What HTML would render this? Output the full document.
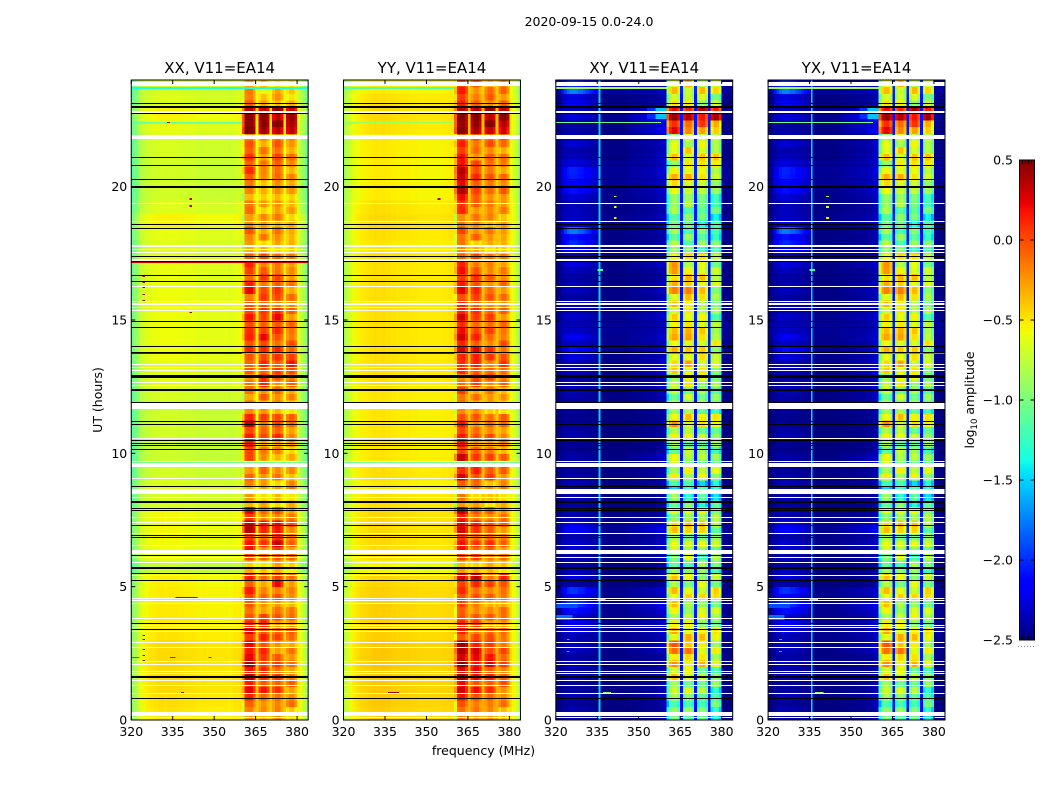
<!DOCTYPE html>
<html lang="en">
<head>
<meta charset="utf-8">
<title>2020-09-15 0.0-24.0</title>
<style>
html,body{margin:0;padding:0;background:#fff;}
svg{display:block;font-family:"DejaVu Sans","Liberation Sans",sans-serif;fill:#000;}
</style>
</head>
<body>
<svg id="figure" xmlns="http://www.w3.org/2000/svg" width="1050" height="800" viewBox="0 0 1050 800">
  <rect x="0" y="0" width="1050" height="800" fill="#fff"/>
  <text x="589" y="26" font-size="12.5" text-anchor="middle">2020-09-15 0.0-24.0</text>
  <text x="483.5" y="755" font-size="12.5" text-anchor="middle">frequency (MHz)</text>
  <text transform="translate(102,400) rotate(-90)" font-size="12.5" text-anchor="middle">UT (hours)</text>
  <text transform="translate(974,400) rotate(-90)" font-size="12.5" text-anchor="middle">log<tspan font-size="8.5" dy="3">10</tspan><tspan dy="-3"> amplitude</tspan></text>
  <g id="panels"></g>
  <g id="colorbar"></g>
</svg>
<script>
// ---------- chart data (hours, MHz, log10 amplitude) ----------
const panelTitles = ["XX, V11=EA14", "YY, V11=EA14", "XY, V11=EA14", "YX, V11=EA14"];
const freqTicks = [320, 335, 350, 365, 380];
const hourTicks = [0, 5, 10, 15, 20];
const colorbarTicks = [0.5, 0.0, -0.5, -1.0, -1.5, -2.0, -2.5];
const colorbarLabels = ["0.5", "0.0", "\u22120.5", "\u22121.0", "\u22121.5", "\u22122.0", "\u22122.5"];
const firstChannel = 320;
const subbandChannels = [[360,361,362,363,364],[366,367,368,369],[371,372,373,374],[376,377,378,379]];
const xyGlowChannels = [322,323,324,325,326,327,328,329,330,331,332,333,334,335];
const xyGlowWeights = [.5,.7,.9,1,1,1,.9,.9,.8,.7,.6,.5,.4,.3];
const xyRightGlowChannels = [346,347,348,349,350,351,352,353,354,355,356,357,358,359];
const xyRightGlowWeights = [.2,.3,.3,.4,.4,.5,.5,.6,.6,.7,.8,.9,1,1];
const stripeShifts = [0, 7, 13, 23];

// per-channel offsets, 320..383 MHz
const xxProfile = [-.42,-.32,-.2,-.1,-.05,-.02,0,.01,.02,.03,.04,.04,.03,.04,.04,.04,.04,.03,.03,.02,.02,.02,.02,.01,0,0,.01,0,0,0,0,0,0,0,0,-.01,0,.02,.02,.03,-.5,0,.03,.03,-.12,.12,-.08,.03,.03,-.1,.12,-.08,.04,.04,-.1,.12,-.08,.03,.03,-.12,-.02,-.1,-.22,-.36];
const yyProfile = [-.3,-.22,-.14,-.08,-.04,-.02,0,.01,.02,.03,.04,.05,.04,.04,.05,.04,.04,.03,.03,.02,.02,.02,.02,.02,.01,.01,.01,0,0,0,0,0,0,0,0,0,.01,.01,.02,.02,-.5,0,.04,.04,-.12,.14,-.08,.03,.03,-.1,.14,-.08,.03,.03,-.1,.14,-.08,.03,.03,-.12,-.02,-.1,-.2,-.32];
const xyProfile = [0,0,.02,.02,.02,.02,.02,.01,.01,.01,.01,.01,.01,.01,.01,.01,.01,0,0,0,0,0,0,0,0,0,0,0,0,0,0,0,.01,.01,.01,.01,.02,.03,.05,.08,-.4,-.05,.05,.05,-.12,.4,-.12,.05,.05,-.15,.4,-.12,.05,.05,-.15,.4,-.12,.05,.02,-.22,.02,0,0,0];

// per half-hour background level, index 0 = 0.0 h
const xxRowBase = [-.53,-.51,-.5,-.5,-.5,-.5,-.53,-.55,-.55,-.55,-.57,-.75,-.62,-.6,-.6,-.6,-.7,-.68,-.72,-.74,-.74,-.72,-.72,-.74,-.7,-.66,-.64,-.62,-.62,-.62,-.62,-.62,-.62,-.64,-.64,-.68,-.64,-.58,-.68,-.72,-.72,-.72,-.7,-.7,-.64,-.58,-.68,-.7];
const yyRowBase = [-.47,-.45,-.45,-.45,-.45,-.45,-.47,-.47,-.47,-.47,-.49,-.6,-.52,-.5,-.5,-.5,-.52,-.55,-.52,-.54,-.54,-.54,-.54,-.54,-.54,-.52,-.52,-.52,-.52,-.52,-.52,-.52,-.52,-.52,-.52,-.54,-.52,-.5,-.52,-.56,-.56,-.56,-.55,-.55,-.52,-.5,-.52,-.56];
const xyRowBase = [-2.5,-2.5,-2.48,-2.48,-2.48,-2.48,-2.46,-2.46,-2.46,-2.46,-2.5,-2.5,-2.48,-2.46,-2.44,-2.48,-2.5,-2.5,-2.48,-2.48,-2.5,-2.5,-2.5,-2.5,-2.48,-2.48,-2.48,-2.46,-2.46,-2.44,-2.46,-2.48,-2.48,-2.48,-2.48,-2.48,-2.48,-2.46,-2.48,-2.46,-2.44,-2.44,-2.48,-2.48,-2.48,-2.46,-2.48,-2.42];
const xyLeftGlow = [.1,.1,.05,.1,.1,.1,.15,.2,.35,.35,.15,.15,.15,.15,.2,.1,.1,.1,.05,.05,.05,.1,.05,.05,.1,.1,.1,.25,.2,.1,.1,.1,.1,.1,.15,.35,.5,.2,.1,.25,.35,.3,.1,.15,.05,.15,.25,.5];
const xyRightGlow = [.05,.1,.05,.05,.05,.1,.1,.1,.15,.1,.05,.05,.1,.1,.15,.05,.05,.05,.05,.1,.05,.05,.05,.05,.1,.1,.15,.1,.1,.05,.1,.1,.1,.05,.1,.05,.05,.1,.05,.1,.1,.1,.1,.1,.2,.3,.05,.05];

// per half-hour level of the four 5 MHz sub-bands, index 0 = 0.0 h
const xxSubbands = [[-.2,-.2,-.2,-.25],[.05,-.05,-.05,-.1],[.25,.15,.05,-.05],[.25,.1,.05,-.1],[.35,.15,0,-.1],[.15,.1,-.1,-.1],[.2,.15,0,-.05],[.05,.1,-.05,-.05],[-.1,-.1,-.1,-.15],[.1,-.1,-.05,-.15],[.05,-.1,.2,-.1],[-.3,-.35,-.3,-.35],[.1,-.1,.1,-.1],[.2,.1,.3,-.05],[.3,.15,.2,0],[.15,-.05,-.05,-.1],[-.3,-.3,-.3,-.3],[-.2,-.25,-.3,-.1],[-.15,-.1,-.15,-.2],[-.05,-.15,-.35,-.25],[.15,-.15,-.15,-.25],[.1,0,.1,-.1],[.25,.05,.05,-.05],[-.2,-.2,-.2,-.3],[-.2,-.05,-.1,-.15],[-.1,.15,-.05,-.05],[-.1,.1,.1,.2],[.05,.15,.1,.1],[.1,.2,.05,0],[.1,.1,.1,-.05],[.1,.05,.2,-.05],[-.05,.15,0,-.05],[.15,0,.1,-.1],[0,.05,0,-.15],[.05,0,-.1,-.1],[-.3,-.3,-.3,-.3],[-.1,-.15,-.1,-.2],[-.15,-.2,-.15,-.25],[-.15,-.25,-.2,-.25],[-.25,-.3,-.2,-.25],[-.05,-.2,-.1,-.15],[.05,-.1,0,-.15],[0,-.1,.05,-.1],[-.05,-.2,-.05,-.2],[.5,.55,.5,.5],[.45,.5,.45,.45],[-.1,-.3,-.2,-.3],[-.2,-.4,-.3,-.4]];
const yySubbands = [[-.15,-.15,-.2,-.2],[.1,0,0,-.1],[.3,.15,.1,0],[.3,.2,.15,0],[.4,.3,.25,.05],[.35,.25,.2,.05],[.1,0,0,-.1],[.05,0,-.05,-.05],[-.05,-.05,-.15,-.1],[.05,-.05,-.05,-.1],[.15,.3,.05,.15],[-.25,-.3,-.3,-.3],[.1,0,0,-.1],[.2,.05,.1,-.05],[.2,.1,0,-.05],[.25,0,-.05,-.05],[-.2,-.3,-.3,-.3],[-.1,-.1,-.2,-.1],[.2,.1,.05,-.05],[.25,.1,.05,0],[.15,-.1,-.1,-.15],[.1,-.05,0,-.1],[.1,-.05,-.05,-.05],[-.2,-.2,-.25,-.3],[-.05,-.15,-.1,-.2],[-.1,.05,0,-.05],[.05,.1,0,.1],[.2,.25,.1,.05],[.25,.1,0,0],[.2,.05,.05,-.05],[.2,.05,.05,-.05],[.1,.1,0,-.05],[.15,.1,-.05,-.05],[.15,.05,-.05,-.1],[.05,0,-.1,-.1],[-.2,-.3,-.3,-.3],[-.05,-.1,-.1,-.15],[-.1,-.15,-.15,-.2],[.05,-.1,-.1,-.15],[.3,.05,-.05,-.05],[.3,.1,0,-.05],[.3,.05,0,-.1],[.1,-.1,0,-.1],[.1,-.05,0,-.05],[.45,.5,.5,.45],[.45,.5,.5,.5],[.1,-.1,0,-.05],[.1,-.1,-.1,-.1]];
const xySubbands = [[-1,-1,-1.1,-1.1],[-1,-1,-1.05,-1.1],[-.7,-.8,-.9,-1],[-.6,-.75,-.85,-.95],[-.35,-.45,-.5,-.7],[-.2,-.3,-.4,-.6],[-.4,-.45,-.5,-.6],[-.7,-.75,-.7,-.8],[-.55,-.7,-.7,-.75],[-.5,-.6,-.6,-.5],[-.6,-.75,-.7,-.8],[-.9,-1,-.95,-.95],[-.85,-.8,-1,-.9],[-.6,-.8,-.75,-.8],[-.55,-.55,-.5,-.85],[-.8,-.7,-.7,-.8],[-1,-1.1,-1.1,-1.2],[-1.3,-1.3,-1.3,-1.3],[-.7,-.7,-.7,-.7],[-.75,-.8,-.85,-.9],[-.9,-.9,-.9,-.95],[-.7,-.75,-.85,-.85],[-.4,-.5,-.55,-.6],[-.9,-.9,-.9,-.95],[-.9,-.85,-.9,-.95],[-.7,-.6,-.7,-.9],[-.55,-.45,-.5,-.7],[-.5,-.5,-.55,-.7],[-.4,-.45,-.45,-.6],[-.4,-.35,-.5,-.8],[-.6,-.7,-.7,-.9],[-.45,-.35,-.6,-.85],[-.35,-.3,-.4,-.7],[-.35,-.5,-.5,-.7],[-.4,-.6,-.6,-.8],[-.9,-1,-1,-1],[-1,-1.05,-1,-1.1],[-.95,-1.05,-1.1,-1.15],[-.95,-.95,-1.05,-1.1],[-.75,-.8,-.8,-1],[-.35,-.45,-.6,-.75],[-.7,-.6,-.45,-.55],[-.55,-.5,-.45,-.5],[-.7,-.75,-.7,-.85],[.1,-.1,-.1,-.25],[.35,.3,.3,.3],[-.6,-.7,-.7,-.75],[-.5,-.55,-.5,-.6]];

// panel-wide sub-band calibration offsets
const xxBandOffsets = [-.05,-.1,-.1,-.12];
const yyBandOffsets = [-.05,-.08,-.12,-.12];
const xyBandOffsets = [-.05,-.05,-.08,-.1];

// quarter-hour row-to-row variation across the sub-bands, index 0 = 0.0 h
const rowStripes = [0,.05,-.1,.1,0,-.08,.12,-.05,.08,-.1,.05,.1,-.12,.06,.1,-.06,0,.1,-.05,.08,-.1,.12,.02,-.1,-.06,.1,0,-.12,.1,.05,-.08,.1,-.04,.08,-.1,.06,.1,-.08,.04,.1,-.1,.05,.08,-.06,.1,-.1,.02,.1,-.08,.1,0,-.1,.08,.05,-.06,.1,-.1,.06,.02,-.08,.1,-.05,.06,-.1,.1,.02,-.08,.06,.1,-.1,0,.08,-.06,.1,-.02,-.1,.08,.04,-.08,.1,-.06,.02,.08,-.1,.1,-.04,.06,-.1,.08,0,.05,-.08,.06,-.04,.08,-.05];

// overlaid features: [hour start, hour end, MHz start, MHz end, level]
const xxFeatures = [[23.68,23.72,320,384,-1.35],[22.37,22.41,320,360,-1.1],[17.14,17.19,320,384,.28],[13.74,13.78,320,360,.42],[13.74,13.78,360,384,-1.45],[9.62,9.68,320,384,-1.05],[16.6,16.64,324,325,.45],[16.4,16.44,324,325,.45],[16.2,16.24,324,325,.45],[15.95,15.99,324,325,.45],[15.7,15.74,324,325,.45],[3.37,3.41,324,325,.4],[3.15,3.19,324,325,.42],[3.0,3.04,324,325,.42],[2.64,2.68,324,325,.42],[2.4,2.44,324,325,.42],[2.2,2.24,324,325,.42],[2.33,2.37,320,323,.1],[2.33,2.37,334,336,.2],[2.33,2.37,348,349,.2],[4.58,4.62,336,344,.3],[1.02,1.06,338,339,.4],[19.5,19.56,341,342,.35],[19.25,19.3,341,342,.35],[15.25,15.3,341,342,.4],[22.4,22.44,333,334,.35]];
const yyFeatures = [[23.68,23.72,320,360,-1.15],[13.74,13.78,320,360,.42],[13.74,13.78,360,384,-1.5],[9.62,9.68,320,384,-1.05],[1.02,1.06,336,340,.4],[19.5,19.56,354,355,.35],[22.37,22.41,320,360,-.9]];
const xyFeatures = [[0,24,335.5,336.1,-1.5],[23.68,23.72,320,360,-.85],[22.37,22.41,320,358,-1.05],[22.55,22.95,353,356,-2.0],[22.55,22.95,356,360,-1.55],[13.74,13.78,320,360,-1.05],[13.74,13.78,360,384,-1.6],[4.5,4.56,335,338,-1.0],[4.2,4.4,320,328,-1.9],[3.75,3.95,320,326,-1.8],[1.0,1.06,337,340,-.9],[19.6,19.66,341,342,-.9],[19.2,19.26,341,342,-.7],[18.8,18.86,341,342,-.5],[16.85,16.9,335,337,-1.2],[12.35,12.41,322,323,-.6],[3.0,3.05,324,325,-.1],[2.55,2.6,324,325,-.1]];

// flagged (blank) time ranges, hours
const blankRanges = [[23.78,23.93],[22.76,22.84],[21.79,21.94],[19.36,19.4],[18.67,18.71],[17.73,17.81],[17.63,17.66],[17.51,17.55],[17.23,17.27],[16.25,16.28],[15.67,15.7],[15.58,15.62],[15.45,15.48],[15.35,15.38],[13.31,13.34],[13.2,13.23],[13.1,13.13],[12.63,12.66],[12.52,12.55],[11.65,11.88],[10.55,10.58],[9.7,9.73],[9.49,9.63],[9.05,9.08],[8.46,8.66],[8.35,8.38],[7.59,7.62],[7.4,7.43],[6.99,7.02],[6.54,6.57],[6.22,6.38],[6.09,6.12],[5.89,5.92],[5.39,5.42],[4.55,4.58],[4.46,4.49],[4.37,4.4],[3.8,3.83],[3.52,3.55],[3.45,3.48],[3.32,3.35],[2.88,2.91],[2.69,2.72],[2.19,2.22],[2.08,2.11],[1.81,1.84],[1.74,1.77],[1.48,1.51],[1.3,1.33],[.99,1.02],[.16,.29],[.08,.11]];
// missing-data (black) time ranges, hours
const blackRanges = [[23.12,23.15],[22.95,23.03],[22.74,22.77],[21.08,21.11],[20.79,20.82],[20.27,20.3],[19.95,20.03],[18.58,18.61],[18.43,18.46],[17.38,17.41],[17.18,17.21],[16.67,16.7],[16.44,16.47],[14.94,14.97],[14.72,14.75],[13.99,14.02],[13.78,13.81],[12.84,12.94],[12.34,12.42],[11.9,11.93],[11.18,11.21],[11.08,11.11],[10.46,10.49],[10.37,10.4],[10.27,10.3],[10.12,10.15],[8.74,8.77],[8.14,8.22],[7.91,7.94],[7.83,7.86],[7.29,7.32],[6.9,6.93],[6.82,6.85],[6.15,6.18],[5.66,5.74],[5.49,5.52],[5.23,5.26],[3.62,3.65],[3.38,3.41],[1.57,1.65],[.8,.83]];

const panelData = [
  {base: xxRowBase, profile: xxProfile, bands: xxSubbands, bandOffsets: xxBandOffsets, features: xxFeatures, glow: null, rightGlow: null, stripeGain: 1},
  {base: yyRowBase, profile: yyProfile, bands: yySubbands, bandOffsets: yyBandOffsets, features: yyFeatures, glow: null, rightGlow: null, stripeGain: 1},
  {base: xyRowBase, profile: xyProfile, bands: xySubbands, bandOffsets: xyBandOffsets, features: xyFeatures, glow: xyLeftGlow, rightGlow: xyRightGlow, stripeGain: 1.8},
  {base: xyRowBase, profile: xyProfile, bands: xySubbands, bandOffsets: xyBandOffsets, features: xyFeatures, glow: xyLeftGlow, rightGlow: xyRightGlow, stripeGain: 1.8}
];

// ---------- axes and colour ----------
const NS = "http://www.w3.org/2000/svg";
const plotTop = 80, plotBottom = 720, plotWidth = 176.9, panelStep = 212.28, plotLeft = 131.25;
const freqMin = 320, freqMax = 384, hourMin = 0, hourMax = 24, vMin = -2.5, vMax = 0.5;
const yScale = h => plotBottom - (h - hourMin) / (hourMax - hourMin) * (plotBottom - plotTop);
const xScale = (f, left) => left + (f - freqMin) / (freqMax - freqMin) * plotWidth;
function ramp(t, pts) {
  for (let i = 1; i < pts.length; i++) {
    if (t <= pts[i][0]) {
      const a = pts[i - 1], b = pts[i];
      return a[1] + (b[1] - a[1]) * (t - a[0]) / (b[0] - a[0]);
    }
  }
  return pts[pts.length - 1][1];
}
function jet(v) {
  const t = Math.max(0, Math.min(1, (v - vMin) / (vMax - vMin)));
  const r = ramp(t, [[0,0],[.35,0],[.66,1],[.89,1],[1,.5]]);
  const g = ramp(t, [[0,0],[.125,0],[.375,1],[.64,1],[.91,0],[1,0]]);
  const b = ramp(t, [[0,.5],[.11,1],[.34,1],[.65,0],[1,0]]);
  return "rgb(" + Math.round(r * 255) + "," + Math.round(g * 255) + "," + Math.round(b * 255) + ")";
}
function make(tag, attrs, parent) {
  const el = document.createElementNS(NS, tag);
  for (const k in attrs) el.setAttribute(k, attrs[k]);
  parent.appendChild(el);
  return el;
}
function cellValue(d, rowIndex, channel) {
  const block = Math.floor(rowIndex / 2);
  const idx = channel - firstChannel;
  for (let s = 0; s < subbandChannels.length; s++) {
    if (subbandChannels[s].indexOf(channel) >= 0) {
      const stripe = rowStripes[(rowIndex + stripeShifts[s]) % rowStripes.length];
      return d.bands[block][s] + d.bandOffsets[s] + d.profile[idx] + stripe * d.stripeGain;
    }
  }
  let v = d.base[block] + d.profile[idx];
  if (d.glow) {
    const g = xyGlowChannels.indexOf(channel);
    if (g >= 0) v += d.glow[block] * xyGlowWeights[g] * (1 + rowStripes[rowIndex] * 4);
    const rg = xyRightGlowChannels.indexOf(channel);
    if (rg >= 0) v += d.rightGlow[block] * xyRightGlowWeights[rg] * (1 + rowStripes[rowIndex] * 3);
  }
  return v;
}

// ---------- panels ----------
const panelsRoot = document.getElementById("panels");
panelTitles.forEach(function (title, p) {
  const left = plotLeft + p * panelStep;
  const d = panelData[p];
  const g = make("g", {}, panelsRoot);
  
  

  const cells = make("g", {"shape-rendering": "crispEdges"}, g);
  
  
  const rowHours = (hourMax - hourMin) / rowStripes.length;
  rowStripes.forEach(function (_, r) {
    d.profile.forEach(function (_, c) {
      const channel = firstChannel + c;
      const x0 = xScale(channel, left), x1 = xScale(channel + 1, left);
      const y0 = yScale(r * rowHours + rowHours), y1 = yScale(r * rowHours);
      const cell = make("rect", {x: x0.toFixed(2), y: y0.toFixed(2), width: (x1 - x0 + .5).toFixed(2), height: (y1 - y0 + .5).toFixed(2), fill: jet(cellValue(d, r, channel))}, cells);
      
      
    });
  });

  d.features.forEach(function (f) {
    const y0 = Math.round(yScale(f[1]));
    const h = Math.max(1, Math.round(yScale(f[0])) - y0);
    const x0 = xScale(f[2], left);
    const w = Math.max(1, xScale(f[3], left) - x0);
    const feature = make("rect", {x: x0.toFixed(2), y: y0, width: w.toFixed(2), height: h, fill: jet(f[4])}, cells);
    
    
  });
  blankRanges.forEach(function (b) {
    const y0 = Math.round(yScale(b[1]));
    const h = Math.max(1, Math.round(yScale(b[0])) - y0);
    const blank = make("rect", {x: left, y: y0, width: plotWidth, height: h, fill: "#fff"}, cells);
    
    
  });
  blackRanges.forEach(function (b) {
    const y0 = Math.round(yScale(b[1]));
    const h = Math.max(1, Math.round(yScale(b[0])) - y0);
    const line = make("rect", {x: left, y: y0, width: plotWidth, height: h, fill: "#000"}, cells);
    
    
  });

  freqTicks.forEach(function (f) {
    const x = xScale(f, left);
    const bottomTick = make("line", {x1: x, x2: x, y1: plotBottom, y2: plotBottom - 4, stroke: "#000", "stroke-width": 1}, g);
    
    
    const topTick = make("line", {x1: x, x2: x, y1: plotTop, y2: plotTop + 4, stroke: "#000", "stroke-width": 1}, g);
    
    
    const label = make("text", {x: x, y: 736, "font-size": 12.5, "text-anchor": "middle"}, g);
    
    
    label.textContent = String(f);
  });
  hourTicks.forEach(function (h) {
    const y = yScale(h);
    const leftTick = make("line", {x1: left, x2: left + 4, y1: y, y2: y, stroke: "#000", "stroke-width": 1}, g);
    
    
    const rightTick = make("line", {x1: left + plotWidth, x2: left + plotWidth - 4, y1: y, y2: y, stroke: "#000", "stroke-width": 1}, g);
    
    
    const label = make("text", {x: left - 4, y: y + 4.5, "font-size": 12.5, "text-anchor": "end"}, g);
    
    
    label.textContent = String(h);
  });
  const frame = make("rect", {x: left, y: plotTop, width: plotWidth, height: plotBottom - plotTop, fill: "none", stroke: "#000", "stroke-width": 1}, g);
  
  
  const titleEl = make("text", {x: left + plotWidth / 2, y: 73, "font-size": 15, "text-anchor": "middle"}, g);
  
  
  titleEl.textContent = title;
});

// ---------- colorbar ----------
const cbRoot = document.getElementById("colorbar");
const cbLeft = 1019.5, cbWidth = 15, cbTop = 160, cbBottom = 640;
const cbY = v => cbBottom - (v - vMin) / (vMax - vMin) * (cbBottom - cbTop);
const cbSteps = 240;
const cbRamp = make("g", {"shape-rendering": "crispEdges"}, cbRoot);


for (let i = 0; i < cbSteps; i++) {
  const v = vMin + (i + .5) / cbSteps * (vMax - vMin);
  const y1 = cbBottom - i / cbSteps * (cbBottom - cbTop);
  const band = make("rect", {x: cbLeft, y: (y1 - 2.5).toFixed(2), width: cbWidth, height: 2.5, fill: jet(v)}, cbRamp);
  
  
}
colorbarTicks.forEach(function (v, i) {
  const y = cbY(v);
  const tl = make("line", {x1: cbLeft, x2: cbLeft + 4, y1: y, y2: y, stroke: "#000", "stroke-width": 1}, cbRoot);
  
  
  const tr = make("line", {x1: cbLeft + cbWidth, x2: cbLeft + cbWidth - 4, y1: y, y2: y, stroke: "#000", "stroke-width": 1}, cbRoot);
  
  
  const label = make("text", {x: 1013, y: y + 4.5, "font-size": 12.5, "text-anchor": "end"}, cbRoot);
  
  
  label.textContent = colorbarLabels[i];
});
[.2, .4, .6, .8].forEach(function (frac) {
  const x = cbLeft + frac * cbWidth;
  const top = make("line", {x1: x, x2: x, y1: cbTop, y2: cbTop + 4, stroke: "#000", "stroke-width": 1}, cbRoot);
  
  
  const bottom = make("line", {x1: x, x2: x, y1: cbBottom, y2: cbBottom - 4, stroke: "#000", "stroke-width": 1}, cbRoot);
  
  
});
const cbFrame = make("rect", {x: cbLeft, y: cbTop, width: cbWidth, height: cbBottom - cbTop, fill: "none", stroke: "#000", "stroke-width": 1}, cbRoot);


const cbDots = make("line", {x1: 1018, x2: 1035, y1: 646.5, y2: 646.5, stroke: "#888", "stroke-width": 1, "stroke-dasharray": "1 2"}, cbRoot);


</script>
</body>
</html>
